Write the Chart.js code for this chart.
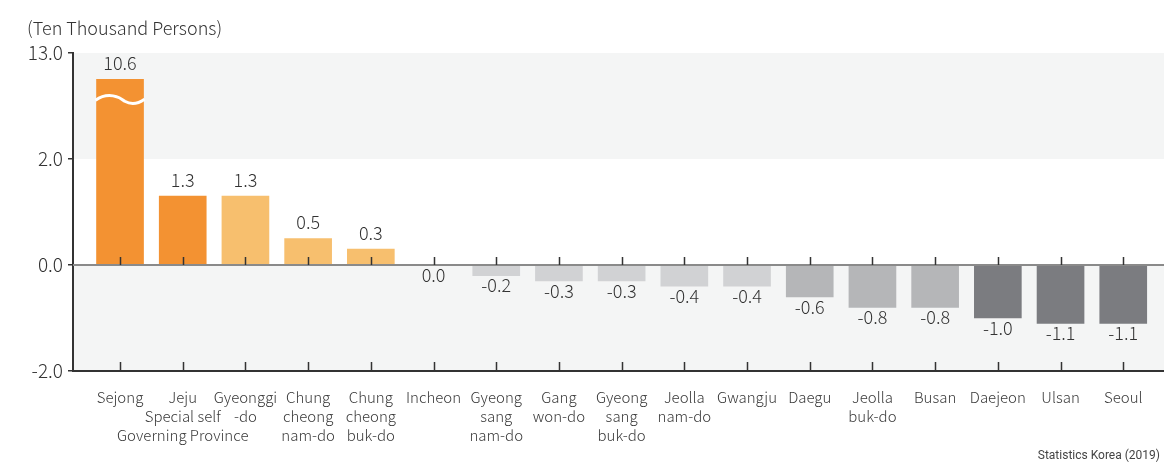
<!DOCTYPE html>
<html>
<head>
<meta charset="utf-8">
<script src="https://cdn.jsdelivr.net/npm/chart.js@4"></script>
<style>
    body { margin: 0; background: #fff; }
    #wrap { position: relative; width: 1164px; height: 471px; }
    #unit { position: absolute; left: 27px; top: 14px; font: 300 18px "Noto Sans CJK KR", sans-serif; color: #333; }
    #source { position: absolute; right: 4px; top: 448px; font: 12px "Liberation Sans Narrow", "Roboto", sans-serif; color: #444; }
</style>
</head>
<body>
<div id="wrap">
    <canvas id="regionChart"></canvas>
    <div id="unit">(Ten Thousand Persons)</div>
    <div id="source">Statistics Korea (2019)</div>
</div>
<script>
// Population change by region (ten thousand persons)
const regions = [
    ["Sejong"], ["Jeju", "Special self", "Governing Province"], ["Gyeonggi", "-do"],
    ["Chung", "cheong", "nam-do"], ["Chung", "cheong", "buk-do"], ["Incheon"],
    ["Gyeong", "sang", "nam-do"], ["Gang", "won-do"], ["Gyeong", "sang", "buk-do"],
    ["Jeolla", "nam-do"], ["Gwangju"], ["Daegu"], ["Jeolla", "buk-do"],
    ["Busan"], ["Daejeon"], ["Ulsan"], ["Seoul"]
];
const changes = [10.6, 1.3, 1.3, 0.5, 0.3, 0.0, -0.2, -0.3, -0.3, -0.4, -0.4, -0.6, -0.8, -0.8, -1.0, -1.1, -1.1];
const yTicks = [-2, 0, 2, 4];
const yTickLabels = ["-2.0", "0.0", "2.0", "13.0"];

// colour groups
const DARK_ORANGE = "#F39232", LIGHT_ORANGE = "#F7BF6E", LIGHT_GRAY = "#D1D2D4", MID_GRAY = "#B5B6B8", DARK_GRAY = "#7B7C80";
const barColors = [DARK_ORANGE, DARK_ORANGE, LIGHT_ORANGE, LIGHT_ORANGE, LIGHT_ORANGE, LIGHT_GRAY,
    LIGHT_GRAY, LIGHT_GRAY, LIGHT_GRAY, LIGHT_GRAY, LIGHT_GRAY, MID_GRAY, MID_GRAY, MID_GRAY,
    DARK_GRAY, DARK_GRAY, DARK_GRAY];

const FONT = "'Noto Sans CJK KR', 'Noto Sans', sans-serif";

// broken axis: above 2.0 the scale is squeezed (13.0 label sits at the top)
function toAxis(v) {
    return v > 2 ? 2 + (v - 2) * 0.175 : v;
}

const decorations = {
    id: 'decorations',
    beforeDraw(chart) {
        const { ctx, chartArea: a, scales: { y } } = chart;
        ctx.save();
        ctx.fillStyle = '#F4F5F5';
        [[4, 2], [0, -2]].forEach(([hi, lo]) => {
            const top = y.getPixelForValue(hi), bot = y.getPixelForValue(lo);
            ctx.fillRect(a.left, top, a.right - a.left, bot - top);
        });
        ctx.restore();
    },
    afterDatasetsDraw(chart) {
        const { ctx, chartArea: a, scales: { x, y } } = chart;
        const zero = y.getPixelForValue(0);
        ctx.save();
        // zero line
        ctx.strokeStyle = '#8A8A8A';
        ctx.lineWidth = 2;
        ctx.beginPath();
        ctx.moveTo(a.left, zero);
        ctx.lineTo(a.right, zero);
        ctx.stroke();

        // inner tick marks on zero line and bottom axis
        ctx.strokeStyle = '#333';
        ctx.lineWidth = 1.5;
        regions.forEach((_, i) => {
            const px = Math.round(x.getPixelForValue(i)) + 0.5;
            ctx.beginPath();
            ctx.moveTo(px, zero);
            ctx.lineTo(px, zero - 8);
            ctx.moveTo(px, a.bottom);
            ctx.lineTo(px, a.bottom - 9);
            ctx.stroke();
        });

        // break mark on the Sejong bar
        const bar = chart.getDatasetMeta(0).data[0];
        const left = bar.x - bar.width / 2, w = bar.width, wy = bar.y + 21;
        ctx.strokeStyle = '#fff';
        ctx.lineWidth = 3;
        ctx.beginPath();
        ctx.moveTo(left - 1, wy);
        ctx.bezierCurveTo(left + w * 0.25, wy - 9, left + w * 0.5, wy - 3, left + w * 0.6, wy + 1);
        ctx.bezierCurveTo(left + w * 0.75, wy + 5, left + w * 0.9, wy + 3, left + w + 1, wy - 1);
        ctx.stroke();

        // value labels
        ctx.fillStyle = '#333';
        ctx.font = '300 18px ' + FONT;
        ctx.textAlign = 'center';
        chart.getDatasetMeta(0).data.forEach((el, i) => {
            const v = changes[i];
            if (v > 0) {
                ctx.textBaseline = 'bottom';
                ctx.fillText(v.toFixed(1), el.x, el.y - 7);
            } else {
                ctx.textBaseline = 'top';
                ctx.fillText(v.toFixed(1), el.x, Math.max(el.y, zero) + 1);
            }
        });
        ctx.restore();
    }
};

new Chart(document.getElementById('regionChart'), {
    type: 'bar',
    data: {
        datasets: [{
            data: changes.map((v, i) => ({ x: i, y: toAxis(v) })),
            backgroundColor: barColors,
            borderWidth: 0,
            barThickness: 47
        }]
    },
    options: {
        responsive: true,
        maintainAspectRatio: false,
        animation: false,
        layout: { padding: { top: 53, right: 0, left: 0, bottom: 0 } },
        plugins: { legend: { display: false }, tooltip: { enabled: false } },
        scales: {
            x: {
                type: 'linear',
                offset: false,
                min: -0.75,
                max: 16.65,
                afterBuildTicks: scale => { scale.ticks = regions.map((_, i) => ({ value: i })); },
                afterFit: scale => { scale.height = 100; },
                grid: { display: false },
                border: { color: '#333', width: 2 },
                ticks: {
                    autoSkip: false,
                    maxRotation: 0,
                    padding: 9,
                    color: '#3A3A3A',
                    font: { family: FONT, size: 15, weight: 300, lineHeight: 1.27 },
                    callback: value => regions[value]
                }
            },
            y: {
                min: -2,
                max: 4,
                afterBuildTicks: scale => { scale.ticks = yTicks.map(v => ({ value: v })); },
                afterFit: scale => { scale.width = 73; },
                grid: { drawOnChartArea: false, drawTicks: true, tickLength: 5, color: '#333', lineWidth: 1.5 },
                border: { color: '#333', width: 2 },
                ticks: {
                    padding: 5,
                    color: '#333',
                    font: { family: FONT, size: 19, weight: 300 },
                    callback: value => yTickLabels[yTicks.indexOf(value)]
                }
            }
        }
    },
    plugins: [decorations]
});
</script>
</body>
</html>
